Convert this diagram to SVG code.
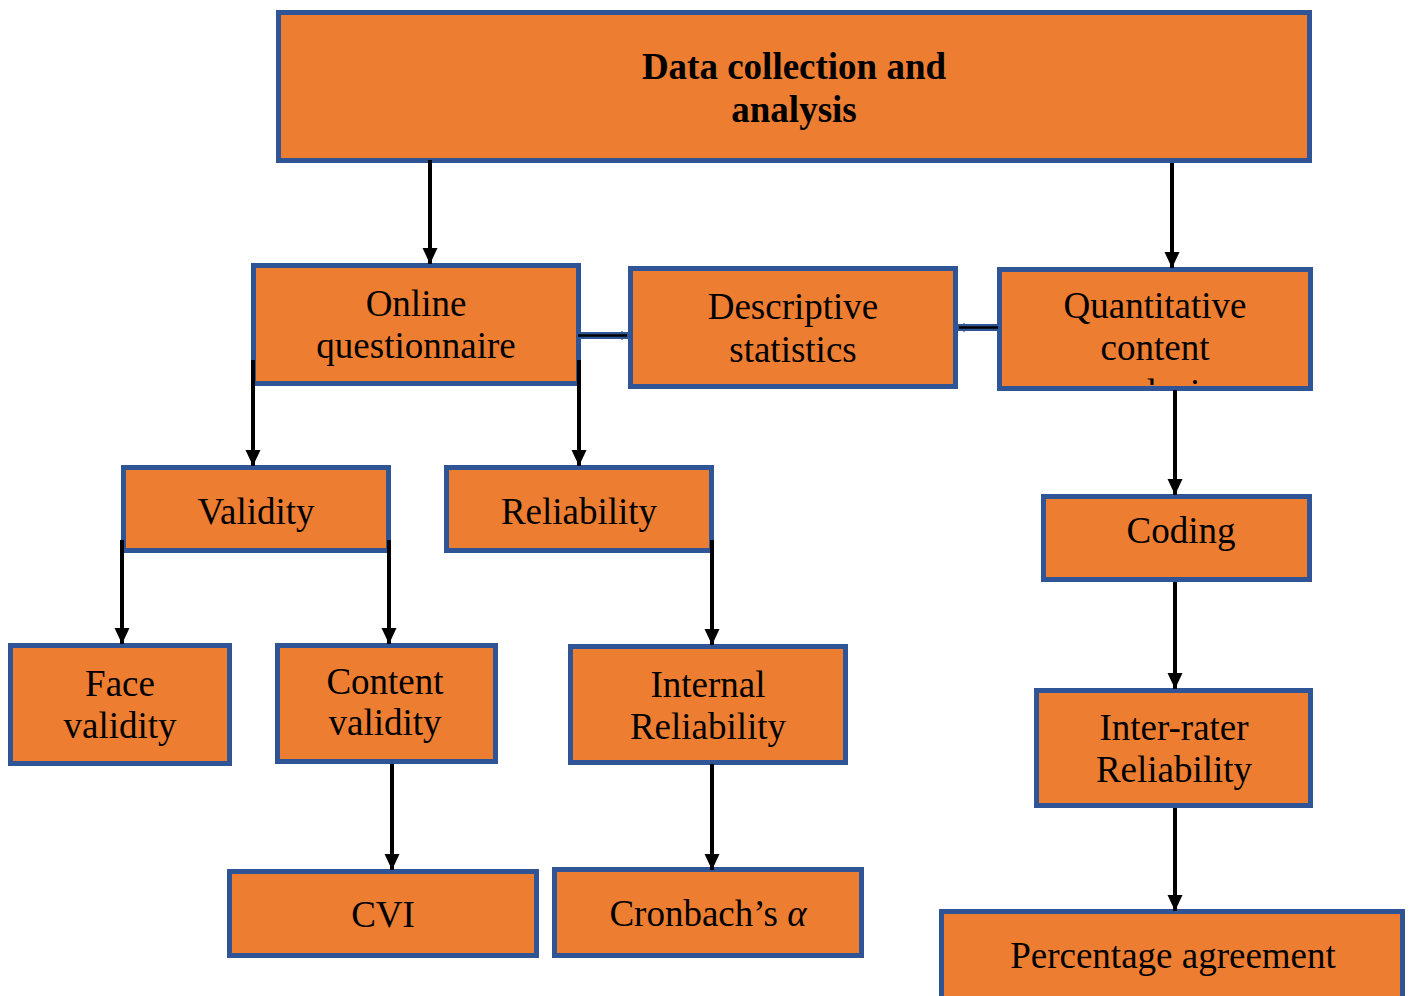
<svg xmlns="http://www.w3.org/2000/svg" width="1410" height="996" viewBox="0 0 1410 996">
<style>
.box{fill:#ED7D31;stroke:#2F5597;stroke-width:5}
.t{font-family:"Liberation Serif","Times New Roman",serif;font-size:37px;fill:#000;text-anchor:middle}
.b{font-weight:bold}
.c{stroke:#000;stroke-width:4;fill:none}
.dl{stroke:#2F5597;stroke-width:7;fill:none}
.dk{stroke:#000;stroke-width:2.5;fill:none}
</style>
<defs>
<marker id="ah" viewBox="0 -8 16 16" refX="16" refY="0" markerWidth="16" markerHeight="16" markerUnits="userSpaceOnUse" orient="auto">
<path d="M0,-7.5 L16,0 L0,7.5 z" fill="#000"/>
</marker>
<marker id="bh" viewBox="0 -6 8 12" refX="8" refY="0" markerWidth="8" markerHeight="12" markerUnits="userSpaceOnUse" orient="auto">
<path d="M0,-5 L8,0 L0,5 L2,0 z" fill="#2F5597"/>
</marker>
<clipPath id="qclip"><rect x="1002" y="272" width="306" height="113"/></clipPath>
</defs>

<g id="n-top"><rect class="box" x="278.5" y="12.5" width="1031" height="148"/>
<text class="t b" x="794" y="79">Data collection and</text>
<text class="t b" x="794" y="122">analysis</text></g>

<g id="n-online"><rect class="box" x="253.5" y="265.5" width="325" height="118"/>
<text class="t" x="416" y="316">Online</text>
<text class="t" x="416" y="358">questionnaire</text></g>

<g id="n-desc"><rect class="box" x="630.5" y="268.5" width="325" height="118"/>
<text class="t" x="793" y="319">Descriptive</text>
<text class="t" x="793" y="362">statistics</text></g>

<g id="n-quant"><rect class="box" x="999.5" y="269.5" width="311" height="119"/>
<g clip-path="url(#qclip)">
<text class="t" x="1155" y="318">Quantitative</text>
<text class="t" x="1155" y="360">content</text>
<text class="t" x="1155" y="405">analysis</text></g></g>

<g id="n-validity"><rect class="box" x="123.5" y="467.5" width="265" height="83"/>
<text class="t" x="256" y="524">Validity</text></g>

<g id="n-reliability"><rect class="box" x="446.5" y="467.5" width="265" height="83"/>
<text class="t" x="579" y="524">Reliability</text></g>

<g id="n-coding"><rect class="box" x="1043.5" y="496.5" width="266" height="83"/>
<text class="t" x="1181" y="543">Coding</text></g>

<g id="n-face"><rect class="box" x="10.5" y="645.5" width="219" height="118"/>
<text class="t" x="120" y="696">Face</text>
<text class="t" x="120" y="738">validity</text></g>

<g id="n-content"><rect class="box" x="277.5" y="645.5" width="218" height="116"/>
<text class="t" x="385" y="694">Content</text>
<text class="t" x="385" y="735">validity</text></g>

<g id="n-internal"><rect class="box" x="570.5" y="646.5" width="275" height="116"/>
<text class="t" x="708" y="697">Internal</text>
<text class="t" x="708" y="739">Reliability</text></g>

<g id="n-inter"><rect class="box" x="1036.5" y="690.5" width="274" height="115"/>
<text class="t" x="1174" y="740">Inter-rater</text>
<text class="t" x="1174" y="782">Reliability</text></g>

<g id="n-cvi"><rect class="box" x="229.5" y="871.5" width="307" height="84"/>
<text class="t" x="383" y="927">CVI</text></g>

<g id="n-cronbach"><rect class="box" x="554.5" y="869.5" width="307" height="86"/>
<text class="t" x="708" y="926">Cronbach’s <tspan font-style="italic">α</tspan></text></g>

<g id="n-percent"><rect class="box" x="941.5" y="911.5" width="461" height="100"/>
<text class="t" x="1173" y="968">Percentage agreement</text></g>

<g id="connectors">
<line class="c" x1="430" y1="160" x2="430" y2="264" marker-end="url(#ah)"/>
<line class="c" x1="1172" y1="163" x2="1172" y2="268" marker-end="url(#ah)"/>
<line class="c" x1="253" y1="360" x2="253" y2="466" marker-end="url(#ah)"/>
<line class="c" x1="579" y1="360" x2="579" y2="466" marker-end="url(#ah)"/>
<line class="c" x1="122" y1="540" x2="122" y2="644" marker-end="url(#ah)"/>
<line class="c" x1="389" y1="540" x2="389" y2="644" marker-end="url(#ah)"/>
<line class="c" x1="712" y1="540" x2="712" y2="645" marker-end="url(#ah)"/>
<line class="c" x1="392" y1="764" x2="392" y2="870" marker-end="url(#ah)"/>
<line class="c" x1="712" y1="764" x2="712" y2="870" marker-end="url(#ah)"/>
<line class="c" x1="1175" y1="390" x2="1175" y2="495" marker-end="url(#ah)"/>
<line class="c" x1="1175" y1="582" x2="1175" y2="689" marker-end="url(#ah)"/>
<line class="c" x1="1175" y1="808" x2="1175" y2="911" marker-end="url(#ah)"/>
<line class="dl" x1="577" y1="335.5" x2="629" y2="335.5" marker-end="url(#bh)"/>
<line class="dk" x1="578" y1="335.5" x2="627" y2="335.5"/>
<line class="dl" x1="999" y1="327.5" x2="957" y2="327.5" marker-end="url(#bh)"/>
<line class="dk" x1="998" y1="327.5" x2="959" y2="327.5"/>
</g>
</svg>
